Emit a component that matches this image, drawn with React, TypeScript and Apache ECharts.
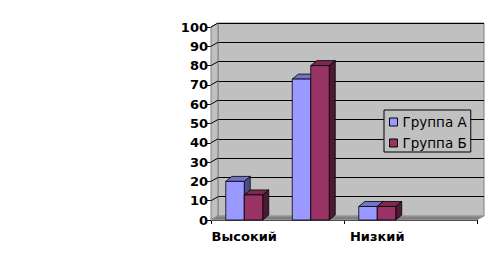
import React, { useEffect, useRef } from "react";
import * as echarts from "echarts";

const categories = ["Высокий", "Средний", "Низкий", ""];
const seriesNames = ["Группа А", "Группа Б"];
const groupA = [20, 73, 7];
const groupB = [13, 80, 7];
const yTicks = [0, 10, 20, 30, 40, 50, 60, 70, 80, 90, 100];

const DX = 7;
const DY = -4;
const BDX = 6;
const BDY = -5;

const palette = [
  { front: "#9999ff", top: "#7373c8", side: "#4c4c8a" },
  { front: "#993366", top: "#7a2950", side: "#4d1933" },
];

function barSeries(idx: number, values: number[]) {
  const col = palette[idx];
  return {
    type: "custom",
    name: seriesNames[idx],
    xAxisIndex: 1,
    yAxisIndex: 1,
    z: 5,
    itemStyle: { color: col.front },
    encode: { x: 0, y: 1 },
    data: values.map((v, i) => [i, v]),
    renderItem: (params: any, api: any) => {
      const c = api.value(0);
      const v = api.value(1);
      const base = api.coord([c, 0]);
      const top = api.coord([c, v]);
      const band = api.size([1, 0])[0];
      const w = band * 0.278;
      const x = idx === 0 ? base[0] - w : base[0];
      const yt = top[1];
      const yb = base[1];
      const stroke = { stroke: "#000", lineWidth: 0.8 };
      return {
        type: "group",
        children: [
          {
            type: "polygon",
            shape: {
              points: [
                [x + w, yt],
                [x + w + BDX, yt + BDY],
                [x + w + BDX, yb + BDY],
                [x + w, yb],
              ],
            },
            style: { fill: col.side, ...stroke },
          },
          {
            type: "polygon",
            shape: {
              points: [
                [x, yt],
                [x + BDX, yt + BDY],
                [x + w + BDX, yt + BDY],
                [x + w, yt],
              ],
            },
            style: { fill: col.top, ...stroke },
          },
          {
            type: "rect",
            shape: { x, y: yt, width: w, height: yb - yt },
            style: { fill: col.front, ...stroke },
          },
        ],
      };
    },
  };
}

export default function App() {
  const ref = useRef<HTMLDivElement>(null);
  useEffect(() => {
    if (!ref.current) return;
    const chart = echarts.init(ref.current, null, { renderer: "svg" });
    const option: any = {
      animation: false,
      backgroundColor: "#ffffff",
      grid: [
        {
          left: 211 + DX,
          right: 24 - DX,
          top: 27 + DY,
          bottom: 47 - DY,
          show: true,
          backgroundColor: "#c0c0c0",
          borderColor: "#808080",
          borderWidth: 1,
          outerBoundsMode: "none",
        },
        {
          left: 211,
          right: 24,
          top: 27,
          bottom: 47,
          outerBoundsMode: "none",
        },
      ],
      xAxis: [
        {
          gridIndex: 0,
          type: "category",
          data: categories,
          show: false,
        },
        {
          gridIndex: 1,
          type: "category",
          data: categories,
          axisLine: { show: true, lineStyle: { color: "#000", width: 1 } },
          axisTick: { show: true, length: 4, lineStyle: { color: "#000" } },
          axisLabel: {
            interval: 1,
            margin: 10,
            color: "#000",
            fontFamily: "DejaVu Sans",
            fontWeight: "bold",
            fontSize: 13,
          },
          splitLine: { show: false },
        },
      ],
      yAxis: [
        {
          gridIndex: 0,
          type: "value",
          min: 0,
          max: 100,
          interval: 10,
          axisLine: { show: false },
          axisTick: { show: false },
          axisLabel: { show: false },
          splitLine: { show: true, lineStyle: { color: "#000", width: 1 } },
        },
        {
          gridIndex: 1,
          type: "value",
          min: 0,
          max: 100,
          interval: 10,
          axisLine: { show: true, lineStyle: { color: "#000", width: 1 } },
          axisTick: { show: true, length: 5, lineStyle: { color: "#000" } },
          axisLabel: {
            margin: 3,
            color: "#000",
            fontFamily: "DejaVu Sans",
            fontWeight: "bold",
            fontSize: 13,
          },
          splitLine: { show: false },
        },
      ],
      legend: {
        orient: "vertical",
        left: 384,
        top: 110,
        padding: [5, 4, 2, 5],
        itemGap: 7,
        itemWidth: 8,
        itemHeight: 8,
        icon: "rect",
        borderColor: "#000",
        borderWidth: 1,
        backgroundColor: "#c0c0c0",
        itemStyle: { borderColor: "#000", borderWidth: 1 },
        textStyle: {
          color: "#000",
          fontFamily: "DejaVu Sans",
          fontSize: 13.5,
        },
        data: seriesNames,
      },
      series: [
        {
          type: "custom",
          name: "walls",
          xAxisIndex: 1,
          yAxisIndex: 1,
          z: 1,
          silent: true,
          data: [[0, 0]],
          encode: { x: 0, y: 1 },
          renderItem: (params: any, api: any) => {
            const cs = params.coordSys;
            const x0 = cs.x;
            const y0 = cs.y;
            const yb = cs.y + cs.height;
            const children: any[] = [
              {
                type: "polygon",
                shape: {
                  points: [
                    [x0, y0],
                    [x0 + DX, y0 + DY],
                    [x0 + DX, yb + DY],
                    [x0, yb],
                  ],
                },
                style: { fill: "#c0c0c0", stroke: "#808080", lineWidth: 1 },
              },
            ];
            yTicks.forEach((t) => {
              const y = api.coord([0, t])[1];
              children.push({
                type: "line",
                shape: { x1: x0, y1: y, x2: x0 + DX, y2: y + DY },
                style: { stroke: "#000", lineWidth: 1 },
              });
            });
            children.push({
              type: "polygon",
              shape: {
                points: [
                  [x0, yb],
                  [x0 + DX, yb + DY],
                  [x0 + cs.width + DX, yb + DY],
                  [x0 + cs.width, yb],
                ],
              },
              style: { fill: "#808080", stroke: "#a0a0a0", lineWidth: 1 },
            });
            return { type: "group", children };
          },
        },
        barSeries(0, groupA),
        barSeries(1, groupB),
      ],
    };
    chart.setOption(option);
    return () => chart.dispose();
  }, []);
  return (
    <div
      ref={ref}
      style={{ position: "fixed", left: 0, top: 0, width: 501, height: 267 }}
    />
  );
}
